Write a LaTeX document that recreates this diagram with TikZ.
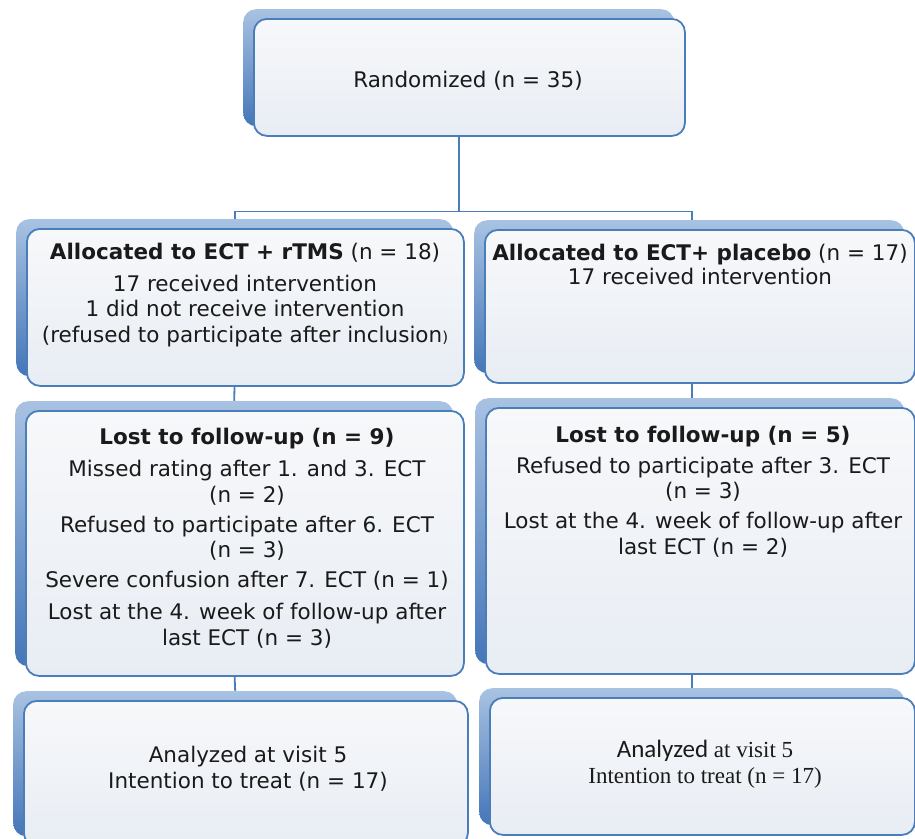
\documentclass[tikz,border=0pt]{standalone}
\usepackage{fontspec}
\setmainfont{DejaVu Sans}
\newfontfamily\calfont{Carlito}
\newfontfamily\serfont{Liberation Serif}
\usetikzlibrary{backgrounds}
\definecolor{bordc}{HTML}{4A7EBB}
\definecolor{shtop}{HTML}{A8C2E2}
\definecolor{shbot}{HTML}{4576B8}
\definecolor{filltop}{HTML}{F7F8FA}
\definecolor{fillbot}{HTML}{E8EDF4}
\definecolor{txtc}{HTML}{1A1A1A}
\tikzset{
  shbox/.style={anchor=north west, inner sep=0pt, rounded corners=13pt, top color=shtop, bottom color=shbot, draw=none},
  mnbox/.style={anchor=north west, inner sep=0pt, rounded corners=13pt, top color=filltop, bottom color=fillbot, draw=bordc, line width=1.8pt},
  conn/.style={draw=bordc, line width=1.8pt},
  txt/.style={anchor=base, align=center, inner sep=0pt, text=txtc, font=\fontsize{21.5}{25.5}\selectfont},
  sertxt/.style={txt, font=\serfont\fontsize{23}{26}\selectfont},
}
\newcommand\mybox[5]{%
  \node[shbox, minimum width=#4pt, minimum height=#5pt] (#1s) at ({#2-10},{-(#3-9)}) {};
  \node[mnbox, minimum width=#4pt, minimum height=#5pt] (#1) at (#2,-#3) {};
}
\begin{document}
\begin{tikzpicture}[x=1pt,y=1pt]
\useasboundingbox (0,0) rectangle (915,-838);
% boxes
\mybox{top}{253}{18}{431}{117}
\mybox{L2}{26}{228}{437}{157}
\mybox{R2}{484}{229}{430}{153}
\mybox{L3}{25}{410}{438}{265}
\mybox{R3}{485}{407}{429}{266}
\mybox{L4}{23}{700}{444}{145}
\mybox{R4}{489}{697}{425}{137}
% texts (anchor base = baseline of the last line)
\node[txt] (ttop) at (468,-87) {Randomized (n = 35)};
\node[txt] (tL2) at (245,-342) {\textbf{Allocated to ECT + rTMS} (n = 18)\\[6.5pt]
  17 received intervention\\
  1 did not receive intervention\\
  (refused to participate after inclusion{\fontsize{15}{15}\selectfont)}};
\node[txt] (tR2) at (700,-284) {\textbf{Allocated to ECT+ placebo} (n = 17)\\[-1.5pt]
  17 received intervention};
\node[txt] (tL3) at (247,-645) {\textbf{Lost to follow-up (n = 9)}\\[7pt]
  Missed rating after 1. and 3. ECT\\
  (n = 2)\\[4.5pt]
  Refused to participate after 6. ECT\\
  (n = 3)\\[4.5pt]
  Severe confusion after 7. ECT (n = 1)\\[6.5pt]
  Lost at the 4. week of follow-up after\\
  last ECT (n = 3)};
\node[txt] (tR3) at (703,-554) {\textbf{Lost to follow-up (n = 5)}\\[5.5pt]
  Refused to participate after 3. ECT\\
  (n = 3)\\[4.5pt]
  Lost at the 4. week of follow-up after\\
  last ECT (n = 2)};
\node[txt, font=\fontsize{21.5}{26}\selectfont] (tL4) at (248,-788) {Analyzed at visit 5\\
  Intention to treat (n = 17)};
\node[sertxt] (tR4) at (705,-783) {{\calfont\fontsize{25}{26}\selectfont Analyzed} at visit 5\\
  Intention to treat (n = 17)};
% connectors
\begin{scope}[on background layer]
  \fill[white] (0,0) rectangle (915,-838);
  \path (tops.south) ++(0,-85) coordinate (split);
  \draw[conn] (tops.south) -- (split) -| (L2s.north);
  \draw[conn] (split) -| ([xshift=3pt]R2s.north);
  \draw[conn] (L2s.south) -- (L3s.north);
  \draw[conn] ([xshift=3pt]R2s.south) -- ([xshift=2.5pt]R3s.north);
  \draw[conn] (L3s.south) -- (L4s.north);
  \draw[conn] (R3s.south -| R4s.north) -- (R4s.north);
\end{scope}
\end{tikzpicture}
\end{document}
